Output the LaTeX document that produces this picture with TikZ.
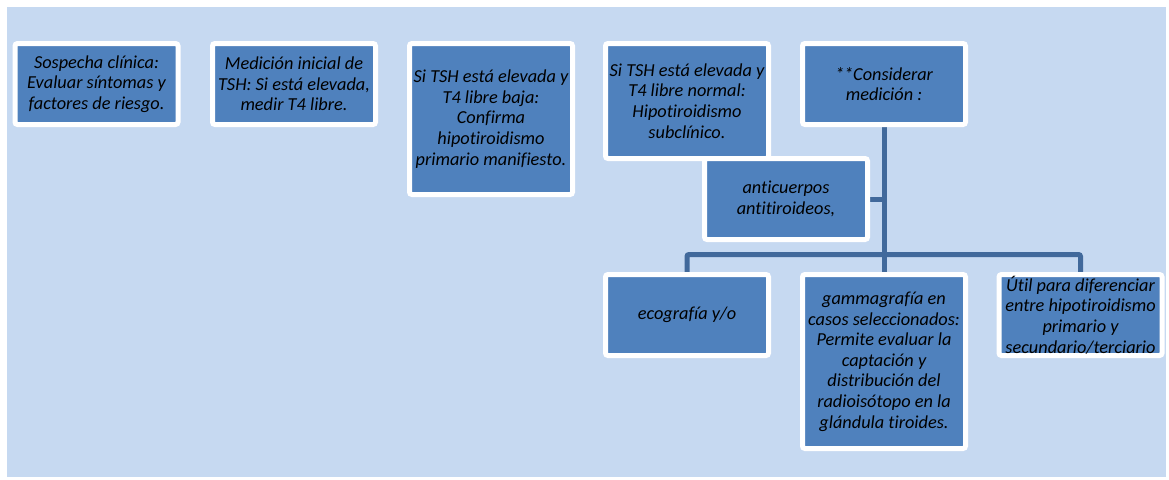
\documentclass[tikz,border=0pt]{standalone}
\usepackage{fontspec}
\setmainfont{Carlito}[Ligatures=NoCommon]
\usetikzlibrary{backgrounds}
\definecolor{bgblue}{HTML}{C6D9F1}
\definecolor{boxblue}{HTML}{4F81BD}
\definecolor{linkblue}{HTML}{41699B}
\begin{document}
\begin{tikzpicture}[x=1pt,y=-1pt,
  box/.style={draw=white, line width=5pt, fill=boxblue, rounded corners=2.5pt,
    minimum width=163pt, inner sep=0pt, align=center, text=black,
    font=\fontsize{18.3}{20.6}\selectfont\itshape},
  conn/.style={draw=linkblue, line width=5pt}]
\useasboundingbox (0,0) rectangle (1169,479);
\begin{scope}[on background layer]
  \fill[bgblue] (7,7) rectangle (1166,477);
\end{scope}
\node[box, minimum height=81pt] (b1) at (96.5,84) {Sospecha clínica:\\Evaluar síntomas y\\factores de riesgo.};
\node[box, minimum height=81pt] (b2) at (294,84) {Medición inicial de\\TSH: Si está elevada,\\medir T4 libre.};
\node[box, minimum height=151pt] (b3) at (491,119) {Si TSH está elevada y\\T4 libre baja:\\Confirma\\hipotiroidismo\\primario manifiesto.};
\node[box, minimum height=115pt] (b4) at (687,101) {Si TSH está elevada y\\T4 libre normal:\\Hipotiroidismo\\subclínico.};
\node[box, minimum height=81pt] (b5) at (884,84) {**Considerar\\medición :};
\node[box, minimum height=81pt] (anti) at (786,199) {anticuerpos\\antitiroideos,};
\node[box, minimum height=81pt] (eco) at (687,315) {ecografía y/o};
\node[box, minimum height=174pt] (gam) at (884,361.5) {gammagrafía en\\casos seleccionados:\\Permite evaluar la\\captación y\\distribución del\\radioisótopo en la\\glándula tiroides.};
\node[box, minimum height=81pt] (util) at (1080.5,315) {Útil para diferenciar\\entre hipotiroidismo\\primario y\\secundario/terciario};
\begin{scope}[on background layer]
  \draw[conn] (b5.south) -- (gam.north);
  \draw[conn] (anti.east) -- (anti.east -| b5.south);
  \draw[conn, rounded corners=2pt] (eco.north) -- ++(0,-17.5) -| (util.north);
\end{scope}
\end{tikzpicture}
\end{document}
